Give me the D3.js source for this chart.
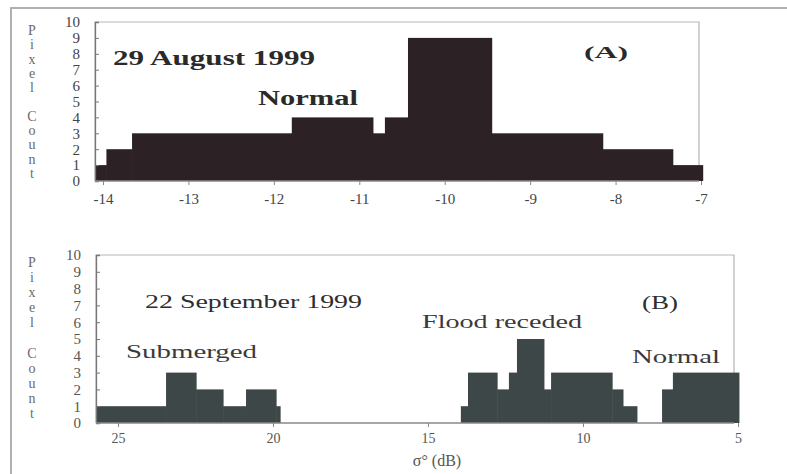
<!DOCTYPE html>
<html lang="en">
<head>
    <meta charset="UTF-8">
    <title>Pixel count histograms</title>
    <script src="https://d3js.org/d3.v7.min.js"></script>
    <style>
        body { margin: 0; background: #fff; }
        svg text { font-family: "Liberation Serif", "DejaVu Serif", serif; }
    </style>
</head>
<body>
    <div id="chart"></div>
    <script>
        // Panel A: 29 August 1999 (bin edges in dB, counts)
        const edgesA = [-14.09, -13.96, -13.66, -11.79, -10.84, -10.70, -10.43, -9.45, -8.15, -7.33, -6.98];
        const countsA = [1, 2, 3, 4, 3, 4, 9, 3, 2, 1];
        const ticksA = [-14, -13, -12, -11, -10, -9, -8, -7];

        // Panel B: 22 September 1999, three groups of bins (axis runs 25 -> 5)
        const edgesB1 = [25.71, 23.45, 22.48, 21.61, 20.87, 19.90, 19.77];
        const countsB1 = [1, 3, 2, 1, 2, 1];
        const edgesB2 = [13.94, 13.71, 12.77, 12.39, 12.13, 11.26, 11.03, 9.06, 8.71, 8.26];
        const countsB2 = [1, 3, 2, 3, 5, 2, 3, 2, 1];
        const edgesB3 = [7.45, 7.10, 4.97];
        const countsB3 = [2, 3];
        const ticksB = [25, 20, 15, 10, 5];

        const yTicks = [0, 1, 2, 3, 4, 5, 6, 7, 8, 9, 10];
        const yLabel = ['P', 'i', 'x', 'e', 'l', '', 'C', 'o', 'u', 'n', 't'];

        const svg = d3.select('#chart')
            .append('svg')
            .attr('width', 787)
            .attr('height', 474);

        // outer frame (top and left edges of the scanned box)
        svg.append('path')
            .attr('d', 'M11,474 V8 H787')
            .attr('fill', 'none')
            .attr('stroke', '#b0b0b0')
            .attr('stroke-width', 2);

        function toBins(edges, counts) {
            return counts.map((c, i) => ({ x0: edges[i], x1: edges[i + 1], n: c }));
        }

        function panel(opt) {
            const g = svg.append('g');
            const x = d3.scaleLinear().domain(opt.xDomain).range(opt.xRange);
            const y = d3.scaleLinear().domain([0, 10]).range([opt.bottom, opt.top]);

            // frame
            g.append('path')
                .attr('d', `M${opt.left},${opt.bottom} V${opt.top} H${opt.right} V${opt.bottom}`)
                .attr('fill', 'none')
                .attr('stroke', '#b5b5b5')
                .attr('stroke-width', 1.2);

            // bars
            g.selectAll('.bar')
                .data(opt.bins)
                .enter()
                .append('rect')
                .attr('class', 'bar')
                .attr('x', d => Math.min(x(d.x0), x(d.x1)))
                .attr('width', d => Math.abs(x(d.x1) - x(d.x0)) + 0.5)
                .attr('y', d => y(d.n))
                .attr('height', d => y(0) - y(d.n))
                .attr('fill', opt.fill);

            // y axis
            const ya = g.append('g')
                .attr('transform', `translate(${opt.left},0)`)
                .call(d3.axisLeft(y).tickValues(yTicks).tickSize(-4).tickPadding(15));
            ya.select('.domain').attr('stroke', '#777').attr('stroke-width', 1.3);
            ya.selectAll('.tick line').attr('stroke', '#777');
            ya.selectAll('.tick text')
                .attr('font-size', 15)
                .attr('fill', opt.tickColor);

            // x axis
            const xa = g.append('g')
                .attr('transform', `translate(0,${opt.bottom})`)
                .call(d3.axisBottom(x).tickValues(opt.xTicks).tickSize(4).tickPadding(opt.xPad)
                    .tickFormat(opt.tickFormat));
            xa.select('.domain').attr('stroke', '#888').attr('stroke-width', 1.3)
                .attr('d', `M${opt.left},0H${opt.right}`);
            xa.selectAll('.tick line').attr('stroke', '#888');
            xa.selectAll('.tick text')
                .attr('font-size', opt.xFont)
                .attr('fill', opt.tickColor);

            // stacked "Pixel Count" letters
            g.selectAll('.ylab')
                .data(yLabel)
                .enter()
                .append('text')
                .attr('x', 32)
                .attr('y', (d, i) => opt.labTop + i * opt.labStep)
                .attr('text-anchor', 'middle')
                .attr('font-size', 14)
                .attr('fill', '#6a6a6a')
                .text(d => d);

            opt.notes.forEach(n => {
                g.append('text')
                    .attr('x', n.x)
                    .attr('y', n.y)
                    .attr('font-size', n.size)
                    .attr('font-weight', n.bold ? 'bold' : 'normal')
                    .attr('fill', n.color)
                    .attr('textLength', n.w)
                    .attr('lengthAdjust', 'spacingAndGlyphs')
                    .text(n.t);
            });
            return g;
        }

        panel({
            xDomain: [-14, -7], xRange: [103, 701],
            left: 95, right: 699, top: 22, bottom: 181,
            bins: toBins(edgesA, countsA),
            fill: '#2c2225',
            xTicks: ticksA,
            tickFormat: d => '-' + Math.abs(d),
            tickColor: '#444',
            xPad: 8, xFont: 15,
            labTop: 35, labStep: 14.3,
            notes: [
                { t: '29 August 1999', x: 113, y: 65, size: 20, bold: true, color: '#2a2a2a', w: 202 },
                { t: 'Normal', x: 258, y: 105, size: 20, bold: true, color: '#2a2a2a', w: 100 },
                { t: '(A)', x: 584, y: 58, size: 17, bold: true, color: '#2a2a2a', w: 44 }
            ]
        });

        panel({
            xDomain: [25, 5], xRange: [118, 738],
            left: 96, right: 734, top: 255, bottom: 423,
            bins: toBins(edgesB1, countsB1)
                .concat(toBins(edgesB2, countsB2))
                .concat(toBins(edgesB3, countsB3)),
            fill: '#3d4747',
            xTicks: ticksB,
            tickFormat: d => d,
            tickColor: '#555',
            xPad: 6, xFont: 14,
            labTop: 267, labStep: 15.1,
            notes: [
                { t: '22 September 1999', x: 145, y: 308, size: 19, bold: false, color: '#2e2e2e', w: 217 },
                { t: 'Submerged', x: 126, y: 358, size: 19, bold: false, color: '#3a3a3a', w: 131 },
                { t: 'Flood receded', x: 422, y: 328, size: 19, bold: false, color: '#3a3a3a', w: 160 },
                { t: 'Normal', x: 632, y: 363, size: 19, bold: false, color: '#3a3a3a', w: 88 },
                { t: '(B)', x: 642, y: 309, size: 18, bold: false, color: '#2e2e2e', w: 36 }
            ]
        });

        svg.append('text')
            .attr('x', 437)
            .attr('y', 466)
            .attr('text-anchor', 'middle')
            .attr('font-size', 16)
            .attr('fill', '#555')
            .text('σ° (dB)');
    </script>
</body>
</html>
